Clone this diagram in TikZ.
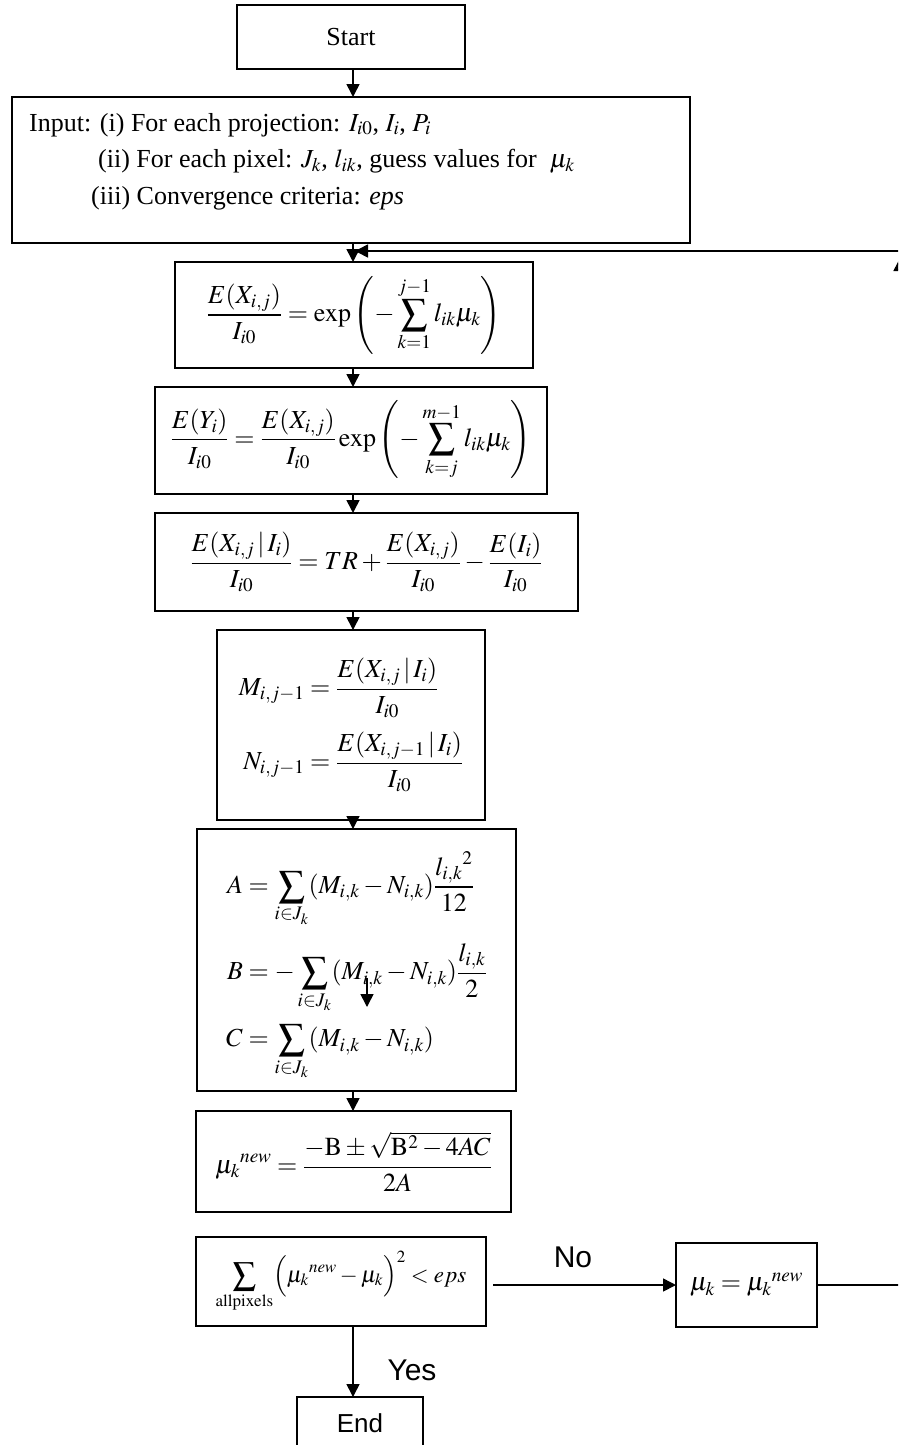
\documentclass[tikz,border=0pt]{standalone}
\usepackage{amsmath}
\usepackage{mathptmx}
\usepackage{fontspec}
\setmainfont{Liberation Serif}
\newfontfamily\arialfont{Liberation Sans}
\usetikzlibrary{arrows.meta}
\begin{document}
\begin{tikzpicture}[x=1pt,y=-1pt,
  box/.style={draw,line width=1.6pt,inner sep=0pt,outer sep=0pt,font=\fontsize{26}{32}\selectfont},
  txt/.style={inner sep=0pt,font=\fontsize{26}{30}\selectfont},
  lab/.style={inner sep=0pt,font=\arialfont\fontsize{30}{34}\selectfont},
  line/.style={line width=1.6pt},
  arr/.style={line width=1.6pt,-{Triangle[length=13pt,width=13pt]}}]
\useasboundingbox (0,0) rectangle (898,1445);
\clip (0,0) rectangle (898,1445);
\fill[white] (0,0) rectangle (898,1445);
% boxes
\node[box,minimum width=228pt,minimum height=64pt] (start) at (351,37) {Start};
\node[box,minimum width=678pt,minimum height=146pt] (input) at (351,170) {};
\node[txt,anchor=base west] (in1) at (29,131) {Input: (i) For each projection: $I_{i0}$, $I_i$, $P_i$};
\node[txt,anchor=base west] (in2) at (98,167) {(ii) For each pixel: $J_k$, $l_{ik}$, guess values for\ \ $\mu_k$};
\node[txt,anchor=base west] (in3) at (91,204) {(iii) Convergence criteria: \textit{eps}};
\node[box,minimum width=358pt,minimum height=106pt] (e1) at (354,315)
  {$\displaystyle \frac{E(X_{i,j})}{I_{i0}} = \exp\left(-\sum_{k=1}^{j-1} l_{ik}\mu_k\right)$};
\node[box,minimum width=392pt,minimum height=107pt] (e2) at (351,440.5)
  {$\displaystyle \frac{E(Y_i)}{I_{i0}} = \frac{E(X_{i,j})}{I_{i0}}\exp\left(-\sum_{k=j}^{m-1} l_{ik}\mu_k\right)$};
\node[box,minimum width=423pt,minimum height=98pt] (e3) at (366.5,562)
  {$\displaystyle \frac{E(X_{i,j}\,|\,I_i)}{I_{i0}} = TR + \frac{E(X_{i,j})}{I_{i0}} - \frac{E(I_i)}{I_{i0}}$};
\node[box,minimum width=268pt,minimum height=190pt] (e4) at (351,725)
  {$\begin{aligned} M_{i,j-1} &= \dfrac{E(X_{i,j}\,|\,I_i)}{I_{i0}}\\[10pt]
     N_{i,j-1} &= \dfrac{E(X_{i,j-1}\,|\,I_i)}{I_{i0}}\end{aligned}$};
\node[box,minimum width=319pt,minimum height=262pt] (e5) at (356.5,960) {};
\node[inner sep=0pt,font=\fontsize{26}{32}\selectfont] (e5t) at (356.5,966)
  {$\begin{aligned} A &= \sum_{i\in J_k}(M_{i,k}-N_{i,k})\dfrac{{l_{i,k}}^2}{12}\\[13pt]
     B &= -\sum_{i\in J_k}(M_{i,k}-N_{i,k})\dfrac{l_{i,k}}{2}\\[7pt]
     C &= \sum_{i\in J_k}(M_{i,k}-N_{i,k})\end{aligned}$};
\node[box,minimum width=315pt,minimum height=101pt] (e6) at (353.5,1161.5)
  {$\displaystyle {\mu_k}^{new} = \frac{-\mathrm{B}\pm\sqrt{\mathrm{B}^2-4AC}}{2A}$};
\node[box,font=\fontsize{23}{28}\selectfont,minimum width=290pt,minimum height=89pt] (e7) at (341,1281.5)
  {$\displaystyle \sum_{\mathrm{allpixels}}\Bigl({\mu_k}^{new}-\mu_k\Bigr)^2 < eps$};
\node[box,minimum width=141pt,minimum height=84pt] (mu) at (746.5,1285)
  {$\mu_k = {\mu_k}^{new}$};
\node[box,font=\arialfont\fontsize{26}{30}\selectfont,minimum width=126pt,minimum height=52pt] (end) at (360,1423) {End};
% labels
\node[lab] (no) at (573,1257) {No};
\node[lab] (yes) at (412,1370) {Yes};
% connectors
\coordinate (ax) at (353,0);
\draw[arr] (ax |- start.south) -- (ax |- input.north);
\draw[arr] (ax |- input.south) -- (ax |- e1.north);
\draw[arr] (ax |- e1.south) -- (ax |- e2.north);
\draw[arr] (ax |- e2.south) -- (ax |- e3.north);
\draw[arr] (ax |- e3.south) -- (ax |- e4.north);
\draw[arr] (ax |- e4.south) -- (ax |- e5.north);
\draw[arr] (ax |- e5.south) -- (ax |- e6.north);
\draw[arr] (ax |- e7.south) -- (ax |- end.north);
\draw[arr,shorten <=7pt] (e7.east |- mu.west) -- (mu.west);
\coordinate (loopend) at (900,258);
\draw[arr] (mu.east) -- (mu.east -| loopend) -- (loopend);
\coordinate (looptop) at (910,251);
\coordinate (looptip) at (355,251);
\draw[arr] (looptop) -- (looptip);
\coordinate (s1) at (367,978);
\coordinate (s2) at (367,1007);
\draw[arr] (s1) -- (s2);
\end{tikzpicture}
\end{document}
